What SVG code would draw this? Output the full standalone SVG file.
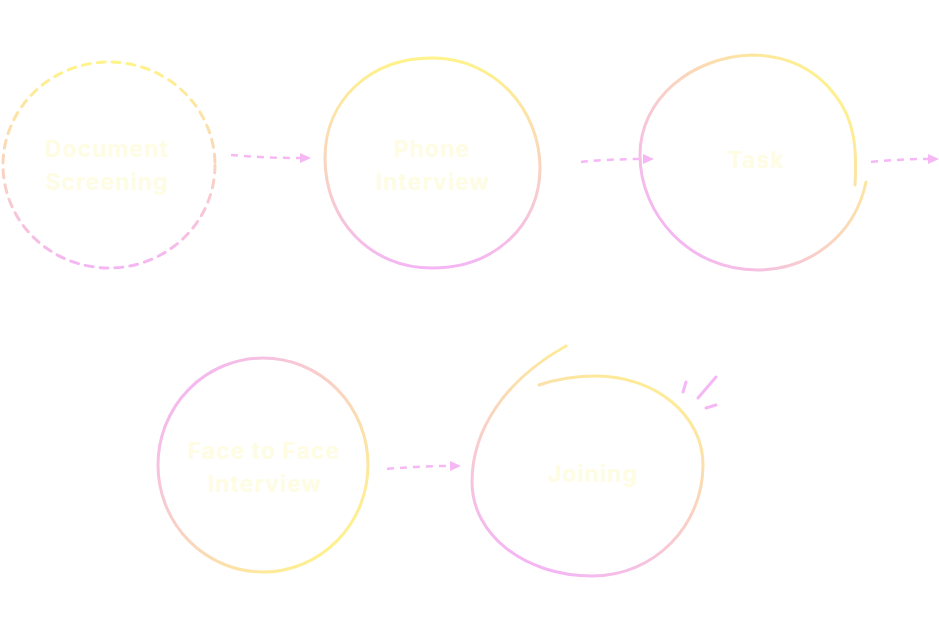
<svg xmlns="http://www.w3.org/2000/svg" width="939" height="631" viewBox="0 0 939 631">
<style>
.lbl{font-family:"Inter","Liberation Sans",sans-serif;font-weight:700;font-size:23px;letter-spacing:1px;fill:#fefce3;text-anchor:middle}
.ring{fill:none;stroke-width:3;stroke-linecap:round}
.conn{fill:none;stroke:#f5b8f5;stroke-width:2.5;stroke-dasharray:7 6}
.arr{fill:#f5b8f5}
</style>
<defs>
<linearGradient id="g1" gradientUnits="userSpaceOnUse" x1="0" y1="62" x2="0" y2="268"><stop offset="0" stop-color="#fff38a"/><stop offset="1" stop-color="#f4b6f4"/></linearGradient>
<linearGradient id="g2" gradientUnits="userSpaceOnUse" x1="0" y1="58" x2="0" y2="268"><stop offset="0" stop-color="#fff38a"/><stop offset="1" stop-color="#f4b6f4"/></linearGradient>
<linearGradient id="g3" gradientUnits="userSpaceOnUse" x1="850" y1="90" x2="680" y2="250"><stop offset="0" stop-color="#fff38a"/><stop offset="1" stop-color="#f4b6f4"/></linearGradient>
<linearGradient id="g4" gradientUnits="userSpaceOnUse" x1="180" y1="380" x2="345" y2="550"><stop offset="0" stop-color="#f4b6f4"/><stop offset="1" stop-color="#fff38a"/></linearGradient>
<linearGradient id="g5" gradientUnits="userSpaceOnUse" x1="640" y1="350" x2="540" y2="570"><stop offset="0" stop-color="#fff38a"/><stop offset="1" stop-color="#f4b6f4"/></linearGradient>
</defs>

<g id="connectors">
<path class="conn" d="M231 155 Q265 158 300 158"/><polygon class="arr" points="300,153 311,158 300,163"/>
<path class="conn" d="M581 162 Q610 159 643 159"/><polygon class="arr" points="643,154 654,159 643,164"/>
<path class="conn" d="M871 162 Q900 159 928 159"/><polygon class="arr" points="928,154 939,159 928,164"/>
<path class="conn" d="M387 469 Q418 466 450 466"/><polygon class="arr" points="450,461 461,466 450,471"/>
</g>

<g id="node-document-screening">
<ellipse class="ring" cx="109" cy="165" rx="106" ry="103" stroke="url(#g1)" stroke-dasharray="8 7"/>
<text class="lbl" x="107" y="157">Document</text>
<text class="lbl" x="107" y="190">Screening</text>
</g>

<g id="node-phone-interview">
<path class="ring" stroke="url(#g2)" d="M432 58 C495 58 540 110 540 168 C540 225 495 268 432 268 C370 268 325 220 325 158 C325 100 370 58 432 58 Z"/>
<text class="lbl" x="432" y="157">Phone</text>
<text class="lbl" x="433" y="190">Interview</text>
</g>

<g id="node-task">
<path class="ring" stroke="url(#g3)" d="M855 185 C857 150 855 120 835 95 C815 68 785 55 752 55 C690 57 640 100 640 155 C640 215 690 270 757 270 C810 270 855 235 866 182"/>
<text class="lbl" x="756" y="168">Task</text>
</g>

<g id="node-face-to-face-interview">
<ellipse class="ring" cx="263" cy="465" rx="105" ry="107" stroke="url(#g4)"/>
<text class="lbl" x="264" y="459">Face to Face</text>
<text class="lbl" x="265" y="492">Interview</text>
</g>

<g id="node-joining">
<path class="ring" stroke="url(#g5)" d="M539 385 C560 378 578 376 596 376 C655 376 703 415 703 465 C703 525 655 576 592 576 C525 576 472 535 472 482 C472 430 505 380 566 346"/>
<path class="ring" stroke="#f5b8f5" d="M683 392 L686 382 M698 398 L716 377 M706 408 L716 405"/>
<text class="lbl" x="593" y="482">Joining</text>
</g>
</svg>
